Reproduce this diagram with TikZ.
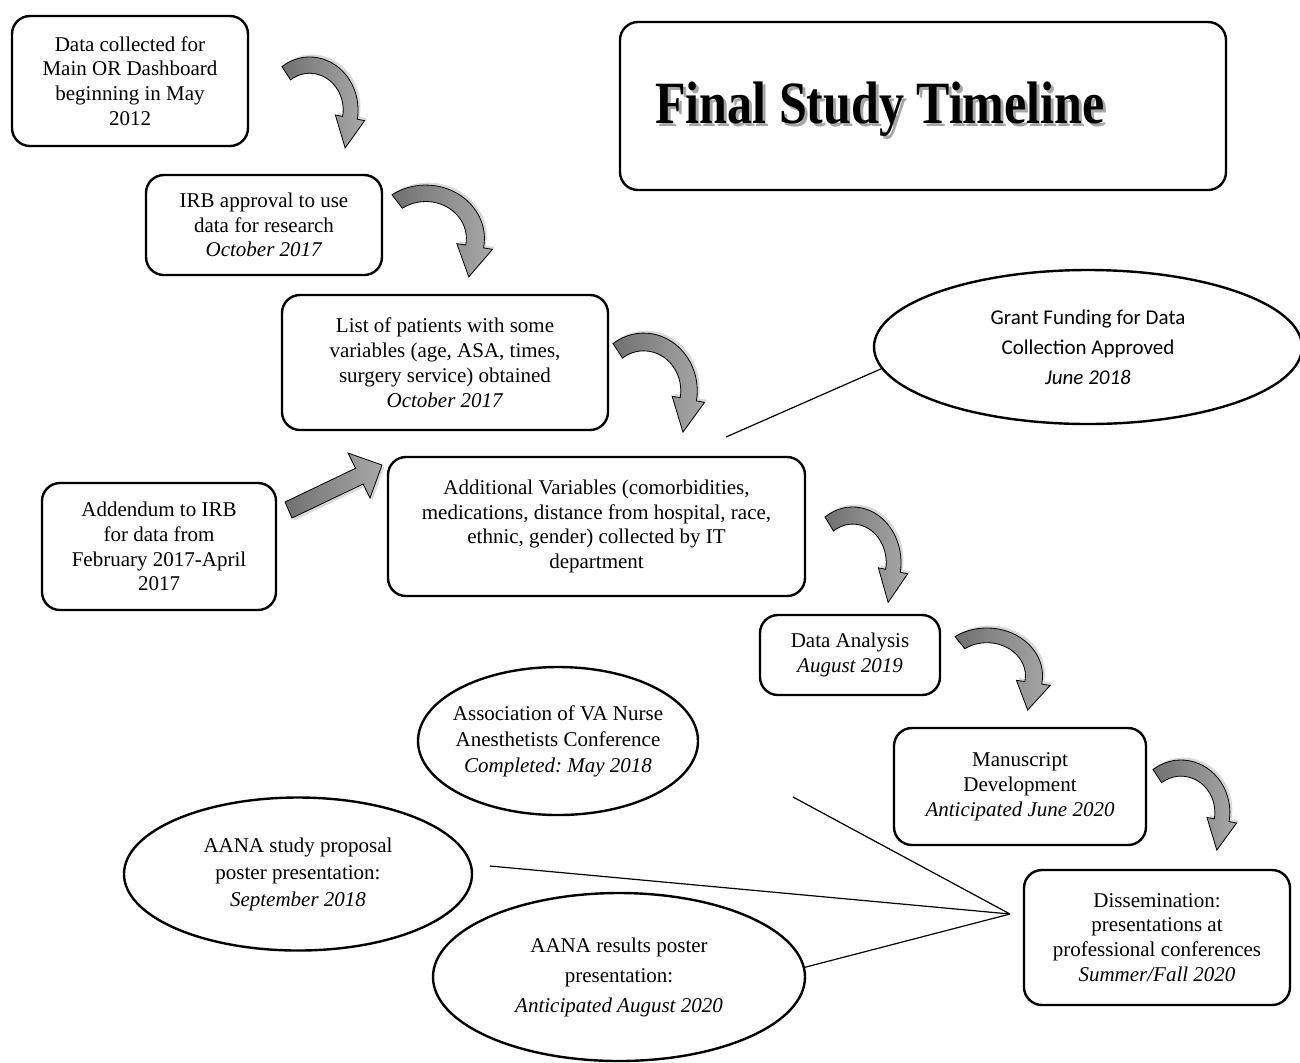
\documentclass[tikz,border=0pt]{standalone}
\usepackage{fontspec}
\setmainfont{Liberation Serif}
\newfontfamily\grantfont{Carlito}
\usepackage{graphicx}
\usepackage{tikz}
\usetikzlibrary{shapes.geometric}
\usetikzlibrary{shadows}
\frenchspacing

% curved block arrow: circle centre x, y, xscale, yscale
\newcommand{\turnarrow}[4]{%
  \begin{scope}[shift={(#1,#2)}, xscale=#3, yscale=-#4]
    \path[turnfill] (125:52) arc[start angle=125, end angle=-10, radius=52]
      -- (-10:60) -- (38.1,-37.2) -- (-10:28) -- (-10:36)
      arc[start angle=-10, end angle=125, radius=36] -- cycle;
  \end{scope}}

\begin{document}
\begin{tikzpicture}[x=0.5pt, y=-0.5pt,
    box/.style={draw, line width=1.2pt, rounded corners=9pt, align=center, inner sep=0pt,
                font=\fontsize{10.5}{12.4}\selectfont},
    oval/.style={ellipse, draw, line width=1.2pt, align=center, inner sep=0pt},
    turnfill/.style={draw=black, line width=0.4pt, left color=black!56, right color=black!34,
                 drop shadow={shadow xshift=1.2pt, shadow yshift=1.2pt, opacity=0.3}},
    titletext/.style={font=\fontsize{25}{30}\selectfont\bfseries},
    link/.style={line width=0.6pt}]
  \useasboundingbox (0,0) rectangle (1300,1062);

  % title
  \node[box, minimum width=303pt, minimum height=84pt] (titlebox) at (923,106) {};
  \node[titletext, text=black!35, xshift=1.5pt, yshift=-1.5pt] (titleshade) at (880,109)
    {\scalebox{1}[1.2]{Final Study Timeline}};
  \node[titletext] (title) at (880,109) {\scalebox{1}[1.2]{Final Study Timeline}};

  % timeline boxes
  \node[box, minimum width=118pt, minimum height=65pt] (collect) at (130,81)
    {Data collected for\\Main OR Dashboard\\beginning in May\\2012};
  \node[box, minimum width=118pt, minimum height=50pt] (irb) at (264,225)
    {IRB approval to use\\data for research\\\textit{October 2017}};
  \node[box, minimum width=163pt, minimum height=67.5pt] (patients) at (445,362.5)
    {List of patients with some\\variables (age, ASA, times,\\surgery service) obtained\\\textit{October 2017}};
  \node[box, minimum width=208.5pt, minimum height=69.5pt] (addvars) at (596.5,526.5)
    {Additional Variables (comorbidities,\\medications, distance from hospital, race,\\ethnic, gender) collected by IT\\department};
  \node[box, minimum width=117pt, minimum height=63.5pt] (addendum) at (159,546.5)
    {Addendum to IRB\\for data from\\February 2017-April\\2017};
  \node[box, minimum width=90pt, minimum height=40pt] (analysis) at (850,655)
    {Data Analysis\\\textit{August 2019}};
  \node[box, minimum width=126pt, minimum height=58.5pt] (manuscript) at (1020,786.5)
    {Manuscript\\Development\\\textit{Anticipated June 2020}};
  \node[box, minimum width=133pt, minimum height=67.5pt] (dissem) at (1157,937.5)
    {Dissemination:\\presentations at\\professional conferences\\\textit{Summer/Fall 2020}};

  % ovals
  \node[oval, minimum width=214pt, minimum height=77pt, font=\grantfont\fontsize{10.5}{15}\selectfont]
    (grant) at (1088,347) {Grant Funding for Data\\Collection Approved\\\textit{June 2018}};
  \node[oval, minimum width=140pt, minimum height=74pt, inner xsep=-6pt, font=\fontsize{10.5}{13}\selectfont]
    (assoc) at (558,741) {Association of VA Nurse\\Anesthetists Conference\\\textit{Completed: May 2018}};
  \node[oval, minimum width=174pt, minimum height=76.5pt, font=\fontsize{10.5}{13.5}\selectfont]
    (proposal) at (298,874) {AANA study proposal\\poster presentation:\\\textit{September 2018}};
  \node[oval, minimum width=186pt, minimum height=84pt, font=\fontsize{10.5}{15}\selectfont]
    (results) at (619,977) {AANA results poster\\presentation:\\\textit{Anticipated August 2020}};

  % thin lines
  \coordinate (hub) at (1010,914);
  \coordinate (granttail) at (726,437);
  \coordinate (assoctail) at (793,797);
  \coordinate (proptail) at (490,866);
  \draw[link] (granttail) -- (grant.186);
  \draw[link] (assoctail) -- (hub);
  \draw[link] (proptail) -- (hub);
  \draw[link] (results.3) -- (hub);

  % curved arrows
  \turnarrow{309.7}{110}{0.93}{1.02}
  \turnarrow{425.7}{238.6}{1.13}{1.03}
  \turnarrow{643.7}{390.8}{1.03}{1.11}
  \turnarrow{852.7}{562.6}{0.93}{1.07}
  \turnarrow{986.9}{675.8}{1.07}{0.92}
  \turnarrow{1181}{812.5}{0.94}{1.01}

  % straight arrow from the addendum
  \path[draw=black, line width=0.4pt, left color=black!56, right color=black!34,
        drop shadow={shadow xshift=1.2pt, shadow yshift=-1.2pt, opacity=0.3}]
    (285,502) -- (355.5,468.3) -- (348,453) -- (382,465) -- (370,498) -- (363.1,484) -- (292,518) -- cycle;
\end{tikzpicture}
\end{document}
